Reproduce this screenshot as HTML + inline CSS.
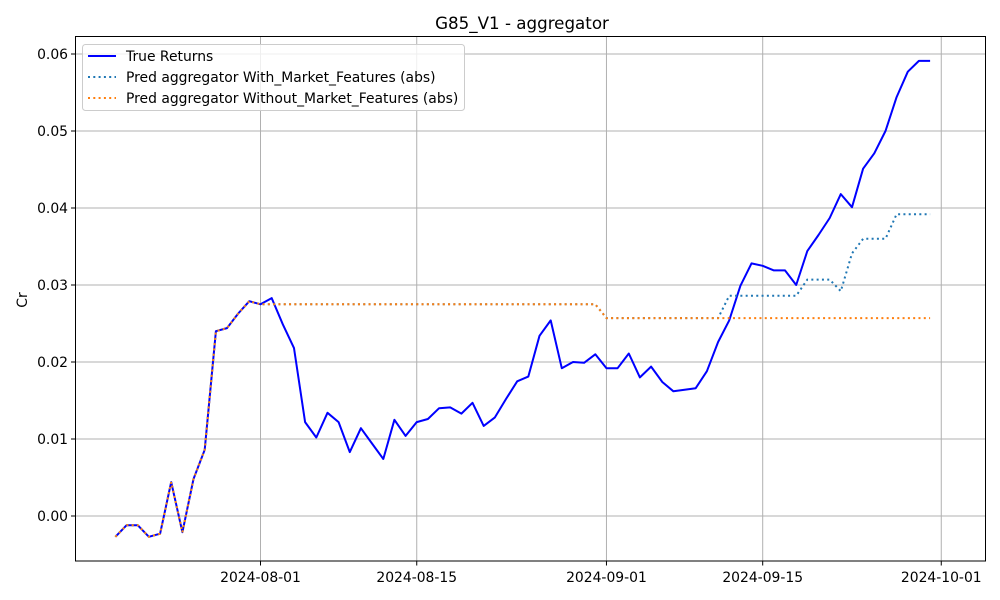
<!DOCTYPE html>
<html><head><meta charset="utf-8"><style>
html,body{margin:0;padding:0;background:#fff;}
svg{display:block;font-family:"DejaVu Sans","Liberation Sans",sans-serif;}
</style></head><body>
<svg id="chart" width="1000" height="600">
<text x="522" y="29" text-anchor="middle" font-size="16.7">G85_V1 - aggregator</text>
<text transform="translate(27,300) rotate(-90)" text-anchor="middle" font-size="13.9">Cr</text>
<g id="grid"></g>
<g id="series"></g>
<rect x="75.5" y="36.5" width="910" height="524.5" fill="none" stroke="#000" stroke-width="1"/>
<g id="axes"></g>
<g>
<rect x="82.5" y="44.5" width="382" height="66" rx="3" fill="#fff" fill-opacity="0.8" stroke="#ccc"/>
<g><line x1="88" y1="56" x2="116" y2="56" stroke="#0000ff" stroke-width="2"/><text x="126" y="61" font-size="13.9">True Returns</text></g>
<g><line x1="88" y1="77" x2="116" y2="77" stroke="#1f77b4" stroke-width="2" stroke-dasharray="2,3.3"/><text x="126" y="82" font-size="13.9">Pred aggregator With_Market_Features (abs)</text></g>
<g><line x1="88" y1="98" x2="116" y2="98" stroke="#ff7f0e" stroke-width="2" stroke-dasharray="2,3.3"/><text x="126" y="103" font-size="13.9">Pred aggregator Without_Market_Features (abs)</text></g>
</g>
</svg>
<script>
const startDate = "2024-07-19";
const trueReturns = [-0.0027,-0.0012,-0.0012,-0.0027,-0.0023,0.0044,-0.0021,0.0048,0.0086,0.0240,0.0244,0.0263,0.0279,0.0275,0.0283,0.0249,0.0218,0.0122,0.0102,0.0134,0.0122,0.0083,0.0114,0.0094,0.0074,0.0125,0.0104,0.0122,0.0126,0.0140,0.0141,0.0133,0.0147,0.0117,0.0128,0.0152,0.0175,0.0181,0.0234,0.0254,0.0192,0.0200,0.0199,0.0210,0.0192,0.0192,0.0211,0.0180,0.0194,0.0174,0.0162,0.0164,0.0166,0.0188,0.0226,0.0254,0.0299,0.0328,0.0325,0.0319,0.0319,0.0300,0.0344,0.0365,0.0387,0.0418,0.0401,0.0451,0.0471,0.0500,0.0544,0.0577,0.0591,0.0591];
const predWithout = [-0.0027,-0.0012,-0.0012,-0.0027,-0.0023,0.0044,-0.0021,0.0048,0.0086,0.0240,0.0244,0.0263,0.0279,0.0275,0.0275,0.0275,0.0275,0.0275,0.0275,0.0275,0.0275,0.0275,0.0275,0.0275,0.0275,0.0275,0.0275,0.0275,0.0275,0.0275,0.0275,0.0275,0.0275,0.0275,0.0275,0.0275,0.0275,0.0275,0.0275,0.0275,0.0275,0.0275,0.0275,0.0275,0.0257,0.0257,0.0257,0.0257,0.0257,0.0257,0.0257,0.0257,0.0257,0.0257,0.0257,0.0257,0.0257,0.0257,0.0257,0.0257,0.0257,0.0257,0.0257,0.0257,0.0257,0.0257,0.0257,0.0257,0.0257,0.0257,0.0257,0.0257,0.0257,0.0257];
const predWith = [-0.0027,-0.0012,-0.0012,-0.0027,-0.0023,0.0044,-0.0021,0.0048,0.0086,0.0240,0.0244,0.0263,0.0279,0.0275,0.0275,0.0275,0.0275,0.0275,0.0275,0.0275,0.0275,0.0275,0.0275,0.0275,0.0275,0.0275,0.0275,0.0275,0.0275,0.0275,0.0275,0.0275,0.0275,0.0275,0.0275,0.0275,0.0275,0.0275,0.0275,0.0275,0.0275,0.0275,0.0275,0.0275,0.0257,0.0257,0.0257,0.0257,0.0257,0.0257,0.0257,0.0257,0.0257,0.0257,0.0257,0.0286,0.0286,0.0286,0.0286,0.0286,0.0286,0.0286,0.0307,0.0307,0.0307,0.0292,0.0341,0.0360,0.0360,0.0360,0.0392,0.0392,0.0392,0.0392];
const yTicks = [0.00,0.01,0.02,0.03,0.04,0.05,0.06];
const yTickLabels = ["0.00","0.01","0.02","0.03","0.04","0.05","0.06"];
const xTickDates = ["2024-08-01","2024-08-15","2024-09-01","2024-09-15","2024-10-01"];

const NS="http://www.w3.org/2000/svg";
const DAY=86400000;
const t0=Date.parse("2024-08-01");
function xScale(ms){ return 260.5 + (ms - t0)/DAY*11.16; }
function yScale(v){ return 516 - v*7700; }
function dateAt(i){ return Date.parse(startDate) + i*DAY; }

const grid=document.getElementById('grid'), axes=document.getElementById('axes'), series=document.getElementById('series');
function mk(tag, attrs, parent){ const e=document.createElementNS(NS,tag); for(const k in attrs) e.setAttribute(k,attrs[k]); parent.appendChild(e); return e; }

yTicks.forEach((v,i)=>{
  const y=yScale(v);
  const g=mk('line',{x1:75.5,x2:985.5,y1:y,y2:y,stroke:'#b0b0b0','stroke-width':1},grid);
  
  
  const t=mk('line',{x1:71,x2:75.5,y1:y,y2:y,stroke:'#000'},axes);
  
  
  const l=mk('text',{x:68,y:y+5,'text-anchor':'end','font-size':13.9},axes);
  l.textContent=yTickLabels[i];
  
  
});
xTickDates.forEach(d=>{
  const x=xScale(Date.parse(d));
  const g=mk('line',{x1:x,x2:x,y1:36.5,y2:561,stroke:'#b0b0b0','stroke-width':1},grid);
  
  
  const t=mk('line',{x1:x,x2:x,y1:561,y2:565.5,stroke:'#000'},axes);
  
  
  const l=mk('text',{x:x,y:582,'text-anchor':'middle','font-size':13.9},axes);
  l.textContent=d;
  
  
});
function pts(arr){ return arr.map((v,i)=>xScale(dateAt(i)).toFixed(1)+','+yScale(v).toFixed(1)).join(' '); }
const p1=mk('polyline',{points:pts(trueReturns),fill:'none',stroke:'#0000ff','stroke-width':2,'stroke-linejoin':'round'},series);


const p2=mk('polyline',{points:pts(predWith),fill:'none',stroke:'#1f77b4','stroke-width':2,'stroke-dasharray':'2,3.3'},series);


const p3=mk('polyline',{points:pts(predWithout),fill:'none',stroke:'#ff7f0e','stroke-width':2,'stroke-dasharray':'2,3.3'},series);


</script>
</body></html>
